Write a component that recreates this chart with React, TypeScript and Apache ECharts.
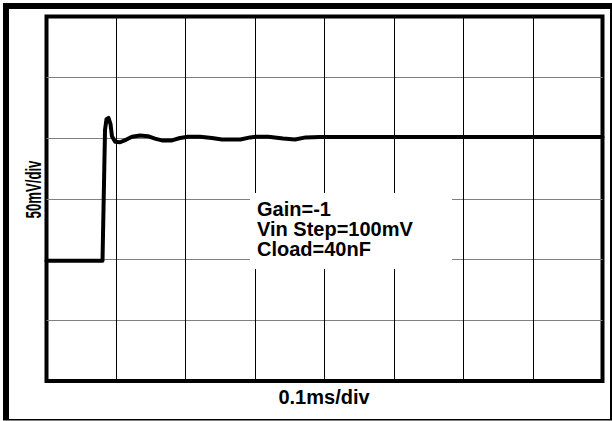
import React, { useEffect, useRef } from "react";
import * as echarts from "echarts";

// Time in divisions (0.1 ms/div) and voltage in divisions (50 mV/div)
const timeDiv = [0, 0.806, 0.842, 0.863, 0.892, 0.921, 0.942, 0.986, 1.058, 1.144, 1.23, 1.345, 1.46, 1.56, 1.66, 1.805, 1.92, 2.036, 2.21, 2.38, 2.525, 2.79, 2.93, 3.015, 3.19, 3.405, 3.575, 3.73, 3.93, 8];
const voltDiv = [1.98, 1.98, 4.13, 4.31, 4.33, 4.23, 4.03, 3.94, 3.93, 3.97, 4.02, 4.04, 4.03, 3.99, 3.96, 3.96, 4.0, 4.02, 4.02, 4.0, 3.975, 3.975, 4.01, 4.02, 4.02, 3.99, 3.975, 4.01, 4.015, 4.015];

const xLabel = "0.1ms/div";
const yLabel = "50mV/div";
const noteLines = ["Gain=-1", "Vin Step=100mV", "Cload=40nF"];

const FONT = "Liberation Sans";

export default function App() {
  const ref = useRef<HTMLDivElement>(null);
  useEffect(() => {
    if (!ref.current) return;
    const chart = echarts.init(ref.current, null, { renderer: "svg" });
    const data = timeDiv.map((t, i) => [t, voltDiv[i]]);
    chart.setOption({
      animation: false,
      backgroundColor: "#fff",
      grid: {
        left: 46.5,
        right: 9.5,
        top: 16.5,
        bottom: 40,
        show: true,
        borderColor: "#000",
        borderWidth: 4,
        backgroundColor: "transparent",
      },
      xAxis: {
        type: "value",
        min: 0,
        max: 8,
        interval: 1,
        axisLine: { show: false },
        axisTick: { show: false },
        axisLabel: { show: false },
        splitLine: { show: true, showMinLine: false, showMaxLine: false, lineStyle: { color: "#000", width: 1 } },
      },
      yAxis: {
        type: "value",
        min: 0,
        max: 6,
        interval: 1,
        axisLine: { show: false },
        axisTick: { show: false },
        axisLabel: { show: false },
        splitLine: { show: true, showMinLine: false, showMaxLine: false, lineStyle: { color: "#808080", width: 1 } },
      },
      series: [
        {
          type: "line",
          data,
          showSymbol: false,
          symbol: "none",
          lineStyle: { color: "#000", width: 4, join: "round", cap: "round" },
          z: 5,
        },
      ],
      graphic: [
        // outer picture frame
        { type: "rect", shape: { x: 3, y: 3, width: 607, height: 6 }, style: { fill: "#000" }, z: 20 },
        { type: "rect", shape: { x: 3, y: 3, width: 6, height: 417 }, style: { fill: "#000" }, z: 20 },
        { type: "rect", shape: { x: 610, y: 3, width: 2, height: 417 }, style: { fill: "#000" }, z: 20 },
        { type: "rect", shape: { x: 3, y: 419, width: 609, height: 1.5 }, style: { fill: "#000" }, z: 20 },
        // annotation box
        { type: "rect", shape: { x: 250, y: 193, width: 202, height: 76 }, style: { fill: "#fff" }, z: 10 },
        ...noteLines.map((t, i) => ({
          type: "text",
          x: 257,
          y: 209 + i * 20,
          z: 11,
          style: {
            text: t,
            fill: "#000",
            fontFamily: FONT,
            fontWeight: "bold",
            fontSize: 20,
            verticalAlign: "middle",
          },
        })),
        {
          type: "text",
          x: 324,
          y: 397,
          z: 11,
          style: {
            text: xLabel,
            fill: "#000",
            fontFamily: FONT,
            fontWeight: "bold",
            fontSize: 20,
            align: "center",
            verticalAlign: "middle",
          },
        },
        {
          type: "text",
          x: 33.5,
          y: 189.5,
          rotation: Math.PI / 2,
          scaleX: 0.6,
          z: 11,
          style: {
            text: yLabel,
            fill: "#000",
            fontFamily: FONT,
            fontWeight: "bold",
            fontSize: 22,
            align: "center",
            verticalAlign: "middle",
          },
        },
      ],
    });
    return () => chart.dispose();
  }, []);
  return <div ref={ref} style={{ position: "absolute", left: 0, top: 0, width: 612, height: 421 }} />;
}
